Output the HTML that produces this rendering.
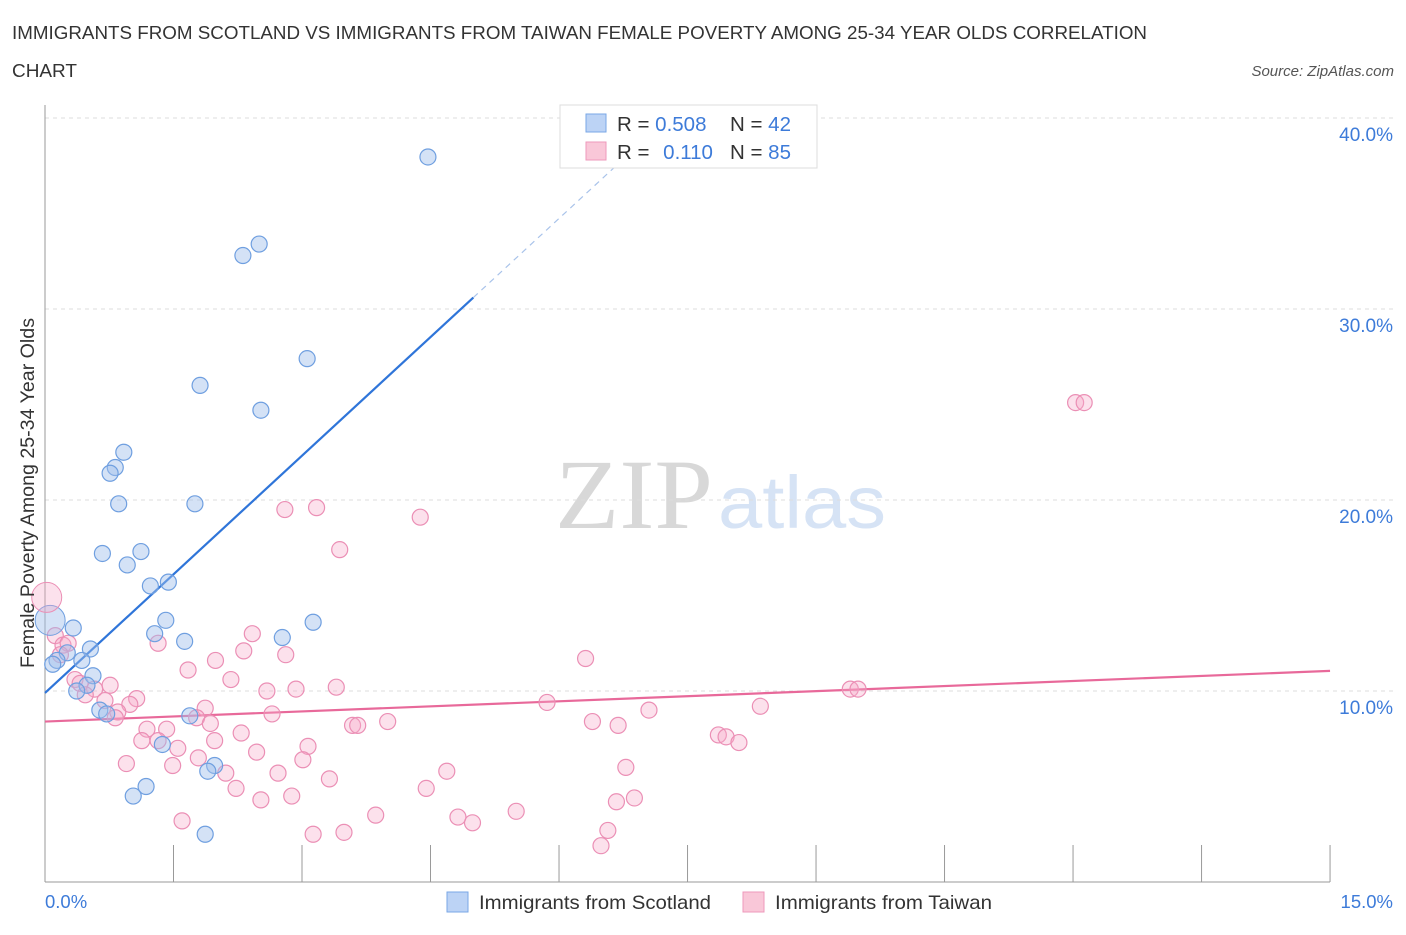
<!DOCTYPE html>
<html><head><meta charset="utf-8"><style>
body{margin:0;background:#fff;font-family:"Liberation Sans",sans-serif;}
</style></head><body>
<svg id="chart" width="1406" height="930" xmlns="http://www.w3.org/2000/svg" font-family="Liberation Sans, sans-serif">
<text x="12" y="39" font-size="18" fill="#333" textLength="1135" lengthAdjust="spacingAndGlyphs">IMMIGRANTS FROM SCOTLAND VS IMMIGRANTS FROM TAIWAN FEMALE POVERTY AMONG 25-34 YEAR OLDS CORRELATION</text>
<text x="12" y="77" font-size="18" fill="#333" textLength="65" lengthAdjust="spacingAndGlyphs">CHART</text>
<text x="1394" y="76" font-size="15" fill="#555" font-style="italic" text-anchor="end">Source: ZipAtlas.com</text>
<text x="555" y="528" font-size="100" fill="#d8d8d8" style="font-family:'Liberation Serif',serif" textLength="158" lengthAdjust="spacingAndGlyphs">ZIP</text>
<text x="718" y="528" font-size="74" fill="#d6e3f5" textLength="168" lengthAdjust="spacingAndGlyphs">atlas</text>
<g id="grid"></g>
<g id="axes"></g>
<g id="trend"></g>
<g id="points"></g>
<text transform="translate(34,493) rotate(-90)" font-size="19" fill="#333" text-anchor="middle" textLength="350" lengthAdjust="spacingAndGlyphs">Female Poverty Among 25-34 Year Olds</text>
<text x="45" y="908" font-size="18.5" fill="#3d7bd9">0.0%</text>
<text x="1393" y="908" font-size="18.5" fill="#3d7bd9" text-anchor="end">15.0%</text>
<g>
<rect x="560" y="105" width="257" height="63" fill="#fff" stroke="#ddd"/>
<rect x="586" y="114" width="20" height="18" fill="#bcd3f5" stroke="#7aa7e6"/>
<rect x="586" y="142" width="20" height="18" fill="#f9c7d8" stroke="#ee98bb"/>
<text x="617" y="131" font-size="20.5" fill="#333">R = <tspan fill="#3d7bd9">0.508</tspan></text>
<text x="730" y="131" font-size="20.5" fill="#333">N = <tspan fill="#3d7bd9">42</tspan></text>
<text x="617" y="159" font-size="20.5" fill="#333">R = <tspan fill="#3d7bd9" dx="8">0.110</tspan></text>
<text x="730" y="159" font-size="20.5" fill="#333">N = <tspan fill="#3d7bd9">85</tspan></text>
</g>
<g>
<rect x="447" y="892" width="21" height="20" fill="#bcd3f5" stroke="#7aa7e6"/>
<text x="479" y="909" font-size="19.5" fill="#333" textLength="232" lengthAdjust="spacingAndGlyphs">Immigrants from Scotland</text>
<rect x="743" y="892" width="21" height="20" fill="#f9c7d8" stroke="#ee98bb"/>
<text x="775" y="909" font-size="19.5" fill="#333" textLength="217" lengthAdjust="spacingAndGlyphs">Immigrants from Taiwan</text>
</g>
</svg>
<script>
const yTicks=[10,20,30,40];
const yTickLabels=["10.0%","20.0%","30.0%","40.0%"];
const xTicks=[0,1.5,3,4.5,6,7.5,9,10.5,12,13.5,15];
const scotX=[4.47,2.50,2.31,3.06,1.81,2.52,0.92,0.82,0.76,0.86,1.75,0.67,1.12,0.96,1.23,1.44,1.41,1.28,1.63,2.77,3.13,0.33,0.53,0.26,0.14,0.09,0.43,0.56,0.49,0.37,0.64,0.72,1.69,1.37,1.98,1.90,1.18,1.03,1.87];
const scotY=[37.96,33.4,32.8,27.4,26.0,24.7,22.5,21.7,21.4,19.8,19.8,17.2,17.3,16.6,15.5,15.7,13.7,13.0,12.6,12.8,13.6,13.3,12.2,12.0,11.6,11.4,11.6,10.8,10.3,10.0,9.0,8.8,8.7,7.2,6.1,5.8,5.0,4.5,2.5];
const taiX=[0.12,0.21,0.27,0.18,0.35,0.41,0.58,0.76,0.47,0.70,1.07,0.99,0.85,0.82,1.19,1.42,1.13,1.32,1.55,0.95,1.49,1.32,1.67,1.99,1.87,1.77,1.93,2.17,2.42,2.32,2.29,1.98,1.79,2.11,2.23,1.60,2.52,2.47,2.59,2.65,2.81,2.72,2.88,2.93,2.80,3.17,3.44,3.40,3.07,3.01,3.13,3.32,3.49,3.59,3.65,4.00,3.86,4.38,4.45,4.69,4.82,4.99,5.50,5.86,6.31,6.39,6.69,7.05,6.78,6.67,6.88,6.57,6.49,7.86,7.95,8.10,8.35,9.40,9.49,12.03,12.13];
const taiY=[12.9,12.4,12.5,11.9,10.6,10.4,10.1,10.3,9.8,9.5,9.6,9.3,8.9,8.6,8.0,8.0,7.4,7.4,7.0,6.2,6.1,12.5,11.1,11.6,9.1,8.6,8.3,10.6,13.0,12.1,7.8,7.4,6.5,5.7,4.9,3.2,4.3,6.8,10.0,8.8,11.9,5.7,4.5,10.1,19.5,19.6,17.4,10.2,7.1,6.4,2.5,5.4,2.6,8.2,8.2,8.4,3.5,19.1,4.9,5.8,3.4,3.1,3.7,9.4,11.7,8.4,8.2,9.0,6.0,4.2,4.4,2.7,1.9,7.7,7.6,7.3,9.2,10.1,10.1,25.1,25.1];
const bigX=[0.06,0.02];const bigY=[13.7,14.9];
const scotTrend=[9.9,4.14,5.0,6.83];
const taiTrend=[8.4,0.177,15];
const NS="http://www.w3.org/2000/svg";
const sx=v=>45+v*85.67, sy=v=>882-v*19.1;
function mk(t,a,p){const e=document.createElementNS(NS,t);for(const k in a)e.setAttribute(k,a[k]);document.getElementById(p).appendChild(e);return e;}
yTicks.forEach((t,i)=>{
 const l=mk('line',{x1:45,x2:1393,y1:sy(t),y2:sy(t),stroke:'#ddd','stroke-dasharray':'4,4'},'grid');
 
 
 const tx=mk('text',{x:1393,y:sy(t)+23,'font-size':19,fill:'#3d7bd9','text-anchor':'end'},'grid');tx.textContent=yTickLabels[i];
 
 
});
const ax=mk('line',{x1:45,x2:1330,y1:882,y2:882,stroke:'#999'},'axes');


const ay=mk('line',{x1:45,x2:45,y1:105,y2:882,stroke:'#999'},'axes');


xTicks.forEach(t=>{const l=mk('line',{x1:sx(t),x2:sx(t),y1:845,y2:882,stroke:'#999'},'axes');
 
 });
function pts(X,Y,r,fill,stroke,name){X.forEach((x,i)=>{const c=mk('circle',{cx:sx(x),cy:sy(Y[i]),r:r,fill:fill,stroke:stroke,'stroke-width':1.2},'points');
 
 });}
pts(taiX,taiY,8,'rgba(245,170,200,0.35)','#eb8fb5','taiwan-point');
pts(scotX,scotY,8,'rgba(160,190,235,0.45)','#6f9fe0','scotland-point');
const b1=mk('circle',{cx:sx(bigX[0]),cy:sy(bigY[0]),r:15,fill:'rgba(160,190,235,0.45)',stroke:'#6f9fe0'},'points');


const b2=mk('circle',{cx:sx(bigX[1]),cy:sy(bigY[1]),r:15,fill:'rgba(245,170,200,0.35)',stroke:'#eb8fb5'},'points');


const f=(a,x)=>a[0]+a[1]*x;
const t1=mk('line',{x1:sx(0),y1:sy(f(scotTrend,0)),x2:sx(scotTrend[2]),y2:sy(f(scotTrend,scotTrend[2])),stroke:'#2f75d9','stroke-width':2.2},'trend');


const t2=mk('line',{x1:sx(scotTrend[2]),y1:sy(f(scotTrend,scotTrend[2])),x2:sx(scotTrend[3]),y2:sy(f(scotTrend,scotTrend[3])),stroke:'#a9c3ea','stroke-width':1.2,'stroke-dasharray':'6,5'},'trend');


const t3=mk('line',{x1:sx(0),y1:sy(f(taiTrend,0)),x2:sx(taiTrend[2]),y2:sy(f(taiTrend,taiTrend[2])),stroke:'#e8699a','stroke-width':2.2},'trend');


</script>
</body></html>
